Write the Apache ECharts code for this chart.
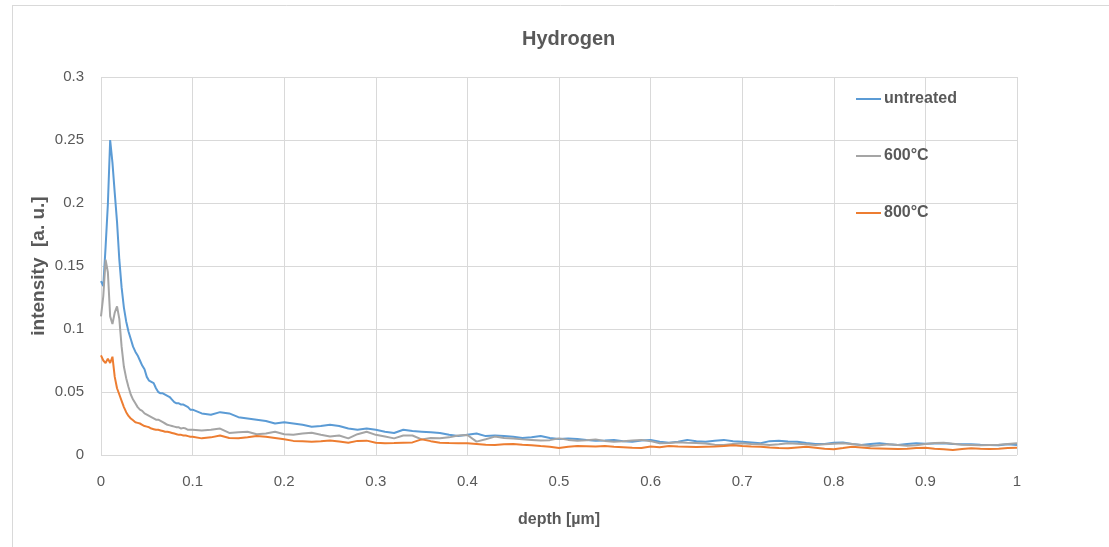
<!DOCTYPE html>
<html>
<head>
<meta charset="utf-8">
<script src="https://cdn.jsdelivr.net/npm/echarts@6/dist/echarts.min.js"></script>
<style>
html,body{margin:0;padding:0;background:#fff;}
#c{width:1109px;height:547px;}
</style>
</head>
<body>
<div id="c"></div>
<script>
// depth [µm]
var depth = [
  0,0.0025,0.005,0.0075,0.01,0.0125,0.015,0.0175,0.02,0.0225,
  0.025,0.0275,0.03,0.0325,0.035,0.0375,0.04,0.0425,0.045,0.0475,
  0.05,0.0525,0.055,0.0575,0.06,0.0625,0.065,0.0675,0.07,0.0725,
  0.075,0.0775,0.08,0.0825,0.085,0.0875,0.09,0.0925,0.095,0.0975,0.1,
  0.11,0.12,0.13,0.14,0.15,0.16,0.17,0.18,0.19,0.20,
  0.21,0.22,0.23,0.24,0.25,0.26,0.27,0.28,0.29,0.30,
  0.31,0.32,0.33,0.34,0.35,0.36,0.37,0.38,0.39,0.40,
  0.41,0.42,0.43,0.44,0.45,0.46,0.47,0.48,0.49,0.50,
  0.51,0.52,0.53,0.54,0.55,0.56,0.57,0.58,0.59,0.60,
  0.61,0.62,0.63,0.64,0.65,0.66,0.67,0.68,0.69,0.70,
  0.71,0.72,0.73,0.74,0.75,0.76,0.77,0.78,0.79,0.80,
  0.81,0.82,0.83,0.84,0.85,0.86,0.87,0.88,0.89,0.90,
  0.91,0.92,0.93,0.94,0.95,0.96,0.97,0.98,0.99,1.00
];

var untreated = [
  0.138,0.134,0.165,0.199,0.250,0.232,0.208,0.185,0.155,0.133,
  0.117,0.106,0.098,0.092,0.086,0.082,0.079,0.075,0.071,0.068,
  0.062,0.059,0.058,0.057,0.053,0.050,0.049,0.049,0.048,0.047,
  0.046,0.044,0.042,0.041,0.041,0.040,0.040,0.039,0.038,0.036,0.036,
  0.033,0.032,0.034,0.033,0.030,0.029,0.028,0.027,0.025,0.026,
  0.025,0.024,0.0225,0.023,0.024,0.023,0.021,0.020,0.021,0.020,
  0.0185,0.0175,0.020,0.019,0.0185,0.018,0.0175,0.016,0.015,0.016,
  0.017,0.015,0.0155,0.015,0.0145,0.0135,0.014,0.015,0.0135,0.0127,
  0.013,0.0127,0.012,0.0114,0.0115,0.012,0.011,0.0106,0.0115,0.012,
  0.0106,0.0098,0.0106,0.012,0.011,0.0106,0.0113,0.012,0.011,0.0106,
  0.010,0.0093,0.011,0.0114,0.0108,0.0106,0.0095,0.0088,0.0087,0.0098,
  0.010,0.0088,0.008,0.0088,0.0093,0.0085,0.008,0.0088,0.0093,0.009,
  0.0092,0.0093,0.0088,0.0085,0.0085,0.0082,0.008,0.0078,0.0085,0.008
];

var t600 = [
  0.110,0.126,0.155,0.145,0.110,0.104,0.113,0.118,0.108,0.086,
  0.070,0.061,0.054,0.048,0.044,0.041,0.038,0.036,0.035,0.033,
  0.032,0.031,0.030,0.029,0.028,0.028,0.027,0.026,0.025,0.024,
  0.0235,0.023,0.0225,0.022,0.022,0.021,0.0215,0.021,0.020,0.020,0.020,
  0.0195,0.020,0.021,0.0175,0.018,0.0185,0.0165,0.017,0.0185,0.0165,
  0.016,0.017,0.0177,0.016,0.0146,0.0155,0.0132,0.0165,0.0185,0.016,
  0.0146,0.0132,0.0155,0.0155,0.0124,0.0135,0.0132,0.014,0.0155,0.0159,
  0.0106,0.0125,0.0146,0.0135,0.013,0.0124,0.012,0.0115,0.0118,0.0132,
  0.012,0.0114,0.0118,0.0124,0.0112,0.0106,0.011,0.0115,0.012,0.011,
  0.0093,0.0095,0.0102,0.0098,0.0095,0.0092,0.0082,0.008,0.0088,0.0093,
  0.0088,0.0085,0.008,0.0086,0.0093,0.009,0.0085,0.008,0.0085,0.009,
  0.0093,0.0088,0.008,0.0071,0.0078,0.0085,0.008,0.0074,0.0078,0.0088,
  0.0095,0.0098,0.009,0.0082,0.008,0.0078,0.008,0.0082,0.0088,0.0093
];

var t800 = [
  0.079,0.075,0.073,0.0765,0.073,0.078,0.062,0.053,0.048,0.043,
  0.038,0.034,0.031,0.029,0.0275,0.026,0.0255,0.025,0.024,0.023,
  0.0225,0.022,0.021,0.0205,0.020,0.020,0.0195,0.019,0.0185,0.0185,
  0.018,0.0175,0.017,0.0165,0.016,0.016,0.0155,0.0155,0.015,0.0145,0.0145,
  0.0132,0.014,0.0155,0.0135,0.0132,0.014,0.015,0.0145,0.0135,0.0125,
  0.0112,0.011,0.0106,0.011,0.0115,0.0108,0.0098,0.0112,0.0114,0.0098,
  0.0093,0.0095,0.0098,0.010,0.0124,0.011,0.0098,0.0095,0.0094,0.0093,
  0.0088,0.0082,0.008,0.0085,0.0087,0.0082,0.0078,0.0071,0.0065,0.0055,
  0.0066,0.0071,0.007,0.0068,0.0071,0.0066,0.0062,0.0058,0.0055,0.0068,
  0.0062,0.0071,0.0068,0.0066,0.0064,0.0066,0.0068,0.0072,0.0078,0.0072,
  0.0068,0.0066,0.006,0.0055,0.0053,0.006,0.0066,0.0058,0.005,0.0045,
  0.0055,0.0066,0.006,0.0053,0.0052,0.005,0.0048,0.005,0.0055,0.0058,
  0.005,0.0045,0.004,0.0048,0.0053,0.005,0.0048,0.005,0.0056,0.0058
];

var seriesNames = ['untreated', '600°C', '800°C'];
var seriesColors = ['#5B9BD5', '#A5A5A5', '#ED7D31'];
var seriesValues = [untreated, t600, t800];

var FONT = '"Liberation Sans", Arial, sans-serif';
var TXT = '#595959';

function pairs(vals) {
  return depth.map(function (d, i) { return [d, vals[i]]; });
}

var chart = echarts.init(document.getElementById('c'), null, {renderer: 'canvas'});
chart.setOption({
  animation: false,
  backgroundColor: '#ffffff',
  textStyle: {fontFamily: FONT},
  title: {
    text: 'Hydrogen',
    left: 517, top: 24,
    textStyle: {fontFamily: FONT, fontSize: 20, fontWeight: 'bold', color: TXT}
  },
  graphic: [
    {type: 'line', shape: {x1: 12, y1: 5.5, x2: 1109, y2: 5.5}, style: {stroke: '#D9D9D9', lineWidth: 1}, silent: true},
    {type: 'line', shape: {x1: 12.5, y1: 5, x2: 12.5, y2: 547}, style: {stroke: '#D9D9D9', lineWidth: 1}, silent: true}
  ],
  legend: {
    orient: 'vertical',
    left: 851, top: 86,
    itemGap: 41,
    itemWidth: 25, itemHeight: 2,
    icon: 'rect',
    textStyle: {fontFamily: FONT, fontSize: 16, fontWeight: 'bold', color: TXT, padding: [0, 0, 0, -2]},
    data: seriesNames
  },
  grid: {left: 101, right: 92, top: 77, bottom: 92, containLabel: false},
  xAxis: {
    type: 'value', min: 0, max: 1, interval: 0.1,
    name: 'depth [µm]', nameLocation: 'middle', nameGap: 57,
    nameMoveOverlap: false,
    nameTextStyle: {fontFamily: FONT, fontSize: 16, fontWeight: 'bold', color: TXT},
    axisLine: {show: false},
    axisTick: {show: false},
    axisLabel: {fontFamily: FONT, fontSize: 15, color: TXT, margin: 19},
    splitLine: {show: true, lineStyle: {color: '#D9D9D9', width: 1}}
  },
  yAxis: {
    type: 'value', min: 0, max: 0.3, interval: 0.05,
    name: 'intensity  [a. u.]', nameLocation: 'middle', nameGap: 53, nameRotate: 90,
    nameMoveOverlap: false,
    nameTextStyle: {fontFamily: FONT, fontSize: 19, fontWeight: 'bold', color: TXT},
    axisLine: {show: false},
    axisTick: {show: false},
    axisLabel: {fontFamily: FONT, fontSize: 15, color: TXT, margin: 17},
    splitLine: {show: true, lineStyle: {color: '#D9D9D9', width: 1}}
  },
  series: seriesNames.map(function (n, i) {
    return {
      name: n, type: 'line', data: pairs(seriesValues[i]),
      showSymbol: false, symbol: 'none',
      lineStyle: {color: seriesColors[i], width: 2},
      itemStyle: {color: seriesColors[i]},
      z: 2 + i
    };
  })
});
</script>
</body>
</html>
